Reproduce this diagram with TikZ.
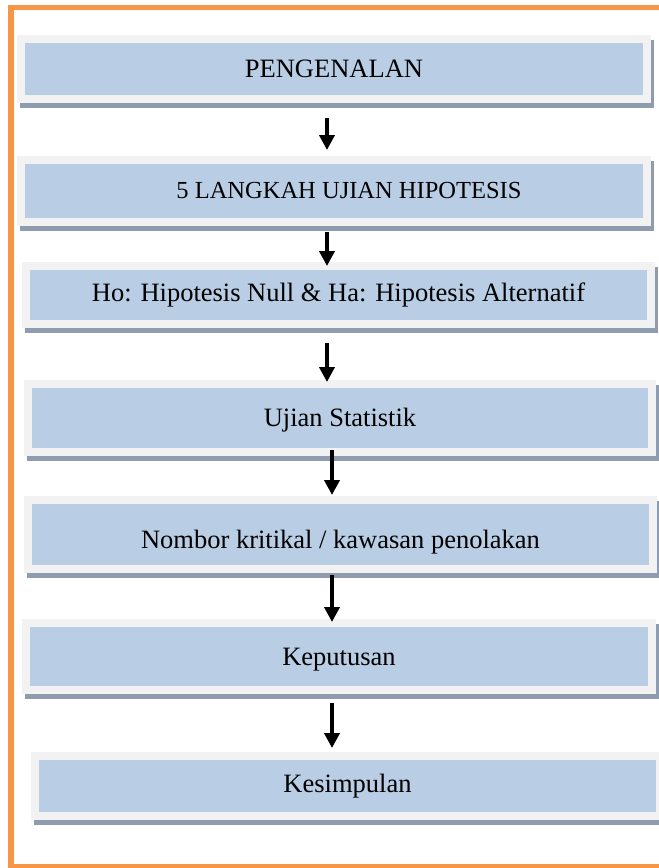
\documentclass[tikz,border=0pt]{standalone}
\usepackage{fontspec}
\setmainfont{Liberation Serif}
\usetikzlibrary{arrows.meta,shadows}
\definecolor{orangeb}{HTML}{F79646}
\definecolor{bluef}{HTML}{B9CDE5}
\definecolor{framec}{HTML}{F2F2F2}
\definecolor{shadowc}{HTML}{8F9CAF}
\newcommand{\lowertext}[2]{\raisebox{-#1}[\height][\depth]{#2}}
\begin{document}
\begin{tikzpicture}[x=1pt,y=-1pt,
  stepbox/.style={rectangle, inner sep=0pt, fill=bluef, draw=framec, line width=8pt,
    font=\fontsize{26.5}{30}\selectfont,
    general shadow={fill=shadowc, draw=shadowc, line width=8pt, shadow xshift=3pt, shadow yshift=-5pt}},
  arr/.style={line width=4.3pt, -{Triangle[width=15pt,length=15pt]}}]
\useasboundingbox (0,0) rectangle (659,868);
\draw[orangeb, line width=5.5pt] (11,7.5) rectangle (720,867);

\node[stepbox, minimum width=626pt, minimum height=60pt] (b1) at (334,69) {PENGENALAN};
\node[stepbox, minimum width=626pt, minimum height=62pt, font=\fontsize{24.5}{28}\selectfont] (b2) at (334,191) {\hspace*{30pt}5 LANGKAH UJIAN HIPOTESIS};
\node[stepbox, minimum width=625pt, minimum height=58pt] (b3) at (338.5,295) {Ho: Hipotesis Null \& Ha: Hipotesis Alternatif};
\node[stepbox, minimum width=624pt, minimum height=68pt] (b4) at (340,418) {\lowertext{2pt}{Ujian Statistik}};
\node[stepbox, minimum width=625pt, minimum height=69pt] (b5) at (340.5,534.5) {\lowertext{8pt}{Nombor kritikal / kawasan penolakan}};
\node[stepbox, minimum width=626pt, minimum height=67pt] (b6) at (339,656.5) {\lowertext{3pt}{Keputusan}};
\node[stepbox, minimum width=625pt, minimum height=60pt] (b7) at (347.5,786) {Kesimpulan};

\coordinate (s1) at (327,118); \coordinate (e1) at (327,150);
\coordinate (s2) at (327,232); \coordinate (e2) at (327,266);
\coordinate (s3) at (327,343); \coordinate (e3) at (327,382);
\coordinate (s4) at (332,450); \coordinate (e4) at (332,495);
\coordinate (s5) at (332,575); \coordinate (e5) at (332,622);
\coordinate (s6) at (332,703); \coordinate (e6) at (332,748);
\draw[arr] (s1) -- (e1);
\draw[arr] (s2) -- (e2);
\draw[arr] (s3) -- (e3);
\draw[arr] (s4) -- (e4);
\draw[arr] (s5) -- (e5);
\draw[arr] (s6) -- (e6);
\end{tikzpicture}
\end{document}
